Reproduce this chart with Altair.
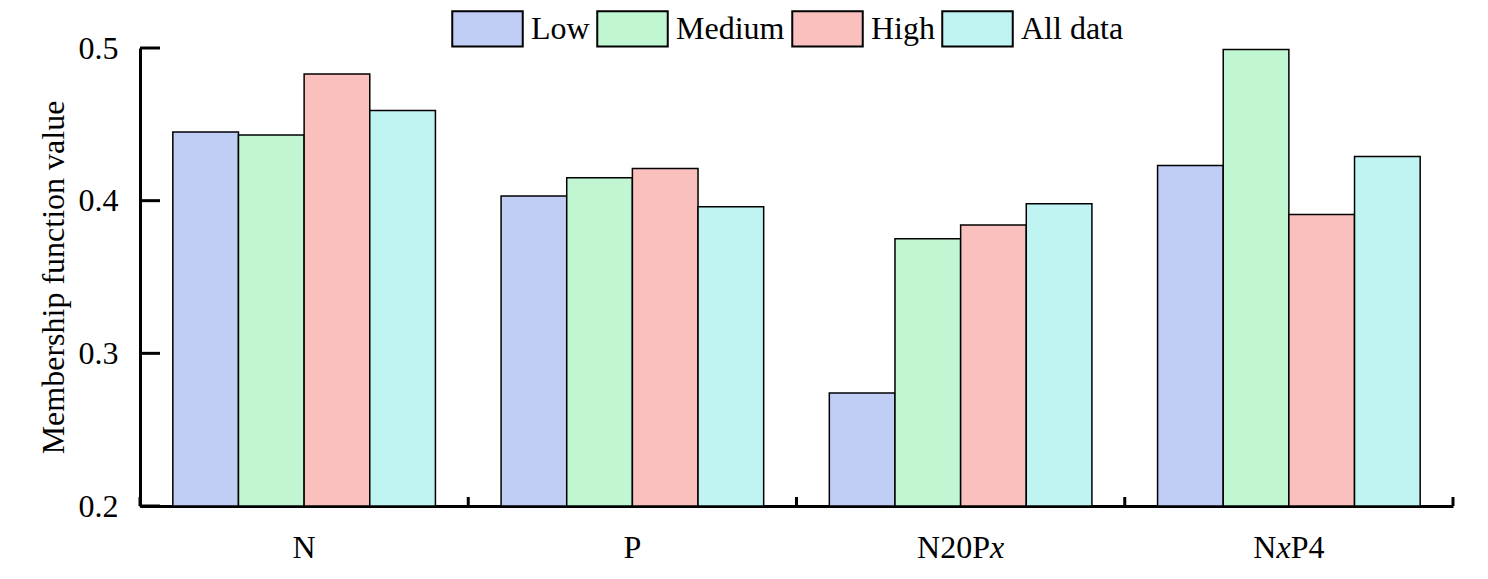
import altair as alt
import pandas as pd

groups = ["N", "P", "N20Px", "NxP4"]
levels = ["Low", "Medium", "High", "All data"]
low = [0.445, 0.403, 0.274, 0.423]
medium = [0.443, 0.415, 0.375, 0.499]
high = [0.483, 0.421, 0.384, 0.391]
alldata = [0.459, 0.396, 0.398, 0.429]
colors = ["#C0CEF6", "#C0F6D2", "#FAC0BE", "#C0F4F2"]
y_ticks = [0.2, 0.3, 0.4, 0.5]

series = {"Low": low, "Medium": medium, "High": high, "All data": alldata}
rows = []
for lvl in levels:
    for g, v in zip(groups, series[lvl]):
        rows.append({"group": g, "level": lvl, "value": v})
df = pd.DataFrame(rows)

FONT = "Liberation Serif"
FS = 32
W, H = 1313, 458
PAD_IN, PAD_OUT = 0.2, 0.1
STEP = W / (len(groups) - PAD_IN + 2 * PAD_OUT)
HALF_GAP = STEP * PAD_IN / 2

xscale = alt.Scale(domain=groups, paddingInner=PAD_IN, paddingOuter=PAD_OUT)
yscale = alt.Scale(domain=[0.2, 0.5], nice=False, zero=False)
xaxis = alt.Axis(title=None, labels=False, ticks=False)
yaxis = alt.Axis(values=y_ticks, format=".1f", title="Membership function value",
                 ticks=False, labelPadding=22, titlePadding=8)

bars = alt.Chart(df).mark_bar(stroke="black", strokeWidth=1.5).encode(
    x=alt.X("group:N", sort=groups, scale=xscale, axis=xaxis),
    xOffset=alt.XOffset("level:N", sort=levels,
                        scale=alt.Scale(domain=levels, paddingInner=0, paddingOuter=0)),
    y=alt.Y("value:Q", scale=yscale, axis=yaxis),
    y2=alt.datum(0.2),
    fill=alt.Fill("level:N", sort=levels, scale=alt.Scale(domain=levels, range=colors),
                  legend=alt.Legend(title=None, orient="none", legendX=311, legendY=-56,
                                    direction="horizontal",
                                    symbolType="M-1,-0.5H1V0.5H-1Z", symbolSize=4970,
                                    symbolStrokeColor="black", symbolStrokeWidth=2,
                                    symbolOpacity=1, labelFont=FONT, labelFontSize=FS,
                                    labelOffset=7, columnPadding=3, padding=0)),
)

# inward-pointing y ticks
ytick_df = pd.DataFrame({"t": y_ticks})
yticks = alt.Chart(ytick_df).mark_rule(color="black", strokeWidth=3).encode(
    y=alt.Y("t:Q", scale=yscale, axis=yaxis),
    x=alt.value(0), x2=alt.value(20),
)

# inward-pointing x ticks at the group boundaries
gdf = pd.DataFrame({"group": groups})
xticks_left = alt.Chart(gdf).mark_rule(color="black", strokeWidth=3, xOffset=-HALF_GAP).encode(
    x=alt.X("group:N", sort=groups, scale=xscale, axis=xaxis, bandPosition=0),
    y=alt.value(H), y2=alt.value(H - 9),
)
xticks_right = alt.Chart(gdf.tail(1)).mark_rule(color="black", strokeWidth=3, xOffset=HALF_GAP).encode(
    x=alt.X("group:N", sort=groups, scale=xscale, axis=xaxis, bandPosition=1),
    y=alt.value(H), y2=alt.value(H - 9),
)


def label_layer(group, text, dx, align, italic=False):
    d = pd.DataFrame({"group": [group], "text": [text]})
    return alt.Chart(d).mark_text(
        font=FONT, fontSize=FS, align=align, baseline="alphabetic", dx=dx,
        fontStyle="italic" if italic else "normal", color="black"
    ).encode(
        x=alt.X("group:N", sort=groups, scale=xscale, axis=xaxis),
        y=alt.value(510),
        text="text:N",
    )


labels = [
    label_layer("N", "N", 0, "center"),
    label_layer("P", "P", 0, "center"),
    label_layer("N20Px", "N20P", 29.3, "right"),
    label_layer("N20Px", "x", 29.3, "left", True),
    label_layer("NxP4", "N", -12.5, "right"),
    label_layer("NxP4", "x", -5.3, "center", True),
    label_layer("NxP4", "P4", 1.8, "left"),
]

chart = alt.layer(bars, yticks, xticks_left, xticks_right, *labels).properties(
    width=W, height=H, autosize="none",
    padding={"left": 132, "top": 40, "right": 27, "bottom": 65},
).configure_view(stroke=None).configure_axis(
    grid=False, domainColor="black", domainWidth=3,
    labelFont=FONT, labelFontSize=FS, labelColor="black",
    titleFont=FONT, titleFontSize=FS, titleFontWeight="normal", titleColor="black",
)

chart.save("out.html", embed_options={"renderer": "svg", "actions": False})
